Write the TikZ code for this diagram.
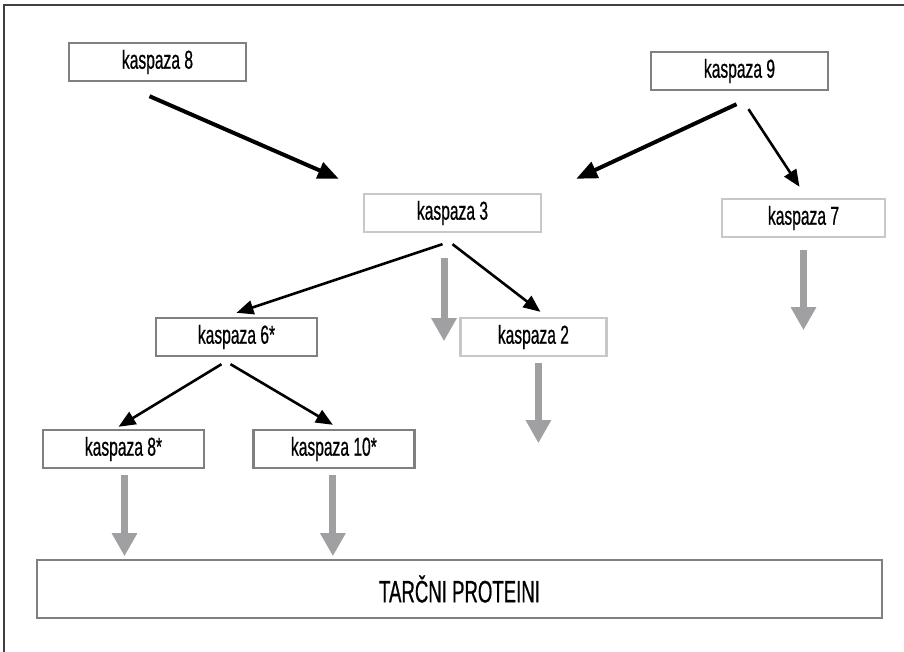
\documentclass[tikz,border=0pt]{standalone}
\usepackage{fontspec}
\setmainfont{Liberation Sans}[FakeStretch=0.6, FakeBold=0.6]
\usetikzlibrary{arrows.meta, positioning, calc}
\definecolor{boxdark}{RGB}{128,128,130}
\definecolor{boxlight}{RGB}{200,200,200}
\definecolor{flowgray}{RGB}{160,160,163}
\tikzset{%
	kas/.style={draw=boxdark, line width=2.4pt, rectangle, minimum width=177pt,%
		minimum height=38pt, inner sep=0pt, font=\fontsize{26}{30}\selectfont},
	kaslight/.style={kas, draw=boxlight},
	sel/.style={-{Triangle[length=17pt,width=14pt]}, line width=2.6pt},
	selthick/.style={-{Triangle[length=21pt,width=17pt]}, line width=4pt},
	flow/.style={-{Triangle[length=23pt,width=24pt]}, line width=7pt, color=flowgray},
	target/.style={draw=boxdark, line width=2.6pt, minimum width=845pt,%
		minimum height=58pt, inner sep=0pt, font=\fontsize{31}{35}\selectfont},
	frame/.style={draw=black!75, line width=1.6pt}
}
\begin{document}
\begin{tikzpicture}[x=1pt, y=-1pt]
	\useasboundingbox (0,0) rectangle (904,652);
	\draw [frame] (4,652) -- (4,5) -- (904,5);

	\node [kas] (k8) at (157.5,62) {kaspaza 8};
	\node [kas] (k9) at (739.5,71) {kaspaza 9};
	\node [kaslight] (k3) at (452.5,213) {kaspaza 3};
	\node [kaslight, minimum width=163pt] (k7) at (803.5,218) {kaspaza 7};
	\node [kas, minimum width=161pt] (k6) at (236.5,337) {kaspaza 6*};
	\node [kaslight, minimum width=146pt, right=141pt of k6] (k2) {kaspaza 2};
	\node [kas, minimum width=161pt] (k8s) at (123.5,449) {kaspaza 8*};
	\node [kas, minimum width=161pt, right=47pt of k8s] (k10) {kaspaza 10*};
	\node [target] (tp) at (459.5,589) {TARČNI PROTEINI};

	%top
	\draw [selthick] ($(k8.south)+(-8,14)$) to ($(k3.north west)+(-24,-14)$);
	\draw [selthick] ($(k9.south)+(-3,13)$) to ($(k3.north east)+(34,-14)$);
	\draw [sel] ($(k9.south)+(9,18)$) to ($(k7.north)+(-4,-11)$);

	%middle
	\draw [sel] ($(k3.south)+(-10,11)$) to ($(k6.north)+(0,-4)$);
	\draw [sel] ($(k3.south)+(0,11)$) to ($(k2.north)+(7,-5)$);
	\draw [sel] ($(k6.south)+(-15,7)$) to ($(k8s.north)+(-5,-2)$);
	\draw [sel] ($(k6.south)+(-6,7)$) to ($(k10.north)+(-1,-4)$);

	%gray
	\draw [flow] ($(k3.south)+(-8.5,25)$) to ($(k3.south)+(-8.5,108)$);
	\draw [flow] ($(k2.south)+(5,6)$) to ($(k2.south)+(5,86)$);
	\draw [flow] ($(k7.south)+(0,12)$) to ($(k7.south)+(0,92)$);
	\draw [flow] ($(k8s.south)+(1,6)$) to ($(k8s.south)+(1,87)$);
	\draw [flow] ($(k10.south)+(-1,6)$) to ($(k10.south)+(-1,87)$);
\end{tikzpicture}
\end{document}
